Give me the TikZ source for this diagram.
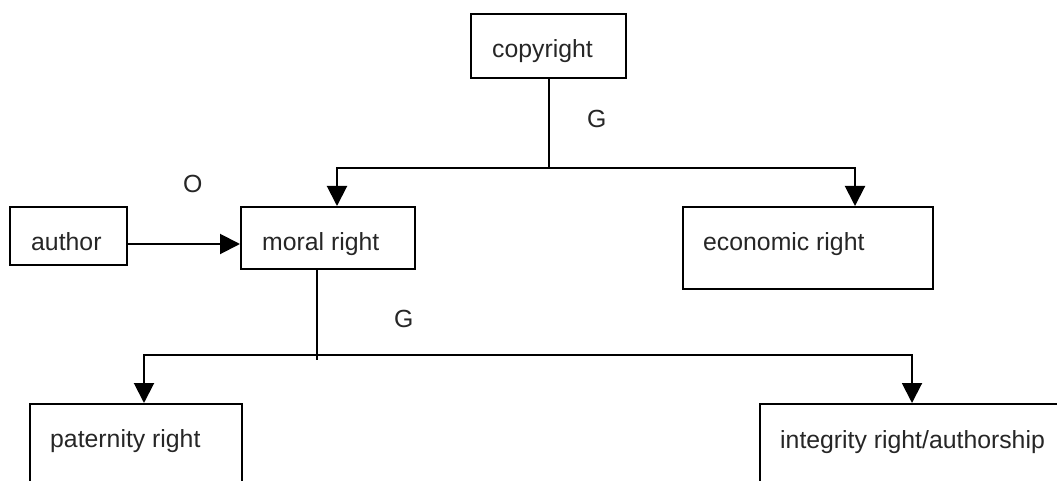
\documentclass[tikz,border=0pt]{standalone}
\usepackage{fontspec}
\setmainfont{Liberation Sans}
\usetikzlibrary{arrows.meta}
\begin{document}
\begin{tikzpicture}[x=1pt,y=-1pt,
  box/.style={draw,line width=2pt,inner sep=0pt,anchor=north west},
  txt/.style={anchor=base west,inner sep=0pt,font=\fontsize{24.8}{29}\selectfont,text=black!85},
  conn/.style={line width=2pt},
  arr/.style={line width=2pt,-{Triangle[width=20pt,length=20pt]}},
  arrs/.style={line width=2pt,{Triangle[width=20pt,length=20pt]}-{Triangle[width=20pt,length=20pt]}}]
\useasboundingbox (0,0) rectangle (1057,481);
\clip (0,0) rectangle (1057,481);
\fill[white] (0,0) rectangle (1057,481);
% boxes
\node[box,minimum width=155pt,minimum height=64pt] (cr) at (470,13) {};
\node[box,minimum width=117pt,minimum height=58pt] (au) at (9,206) {};
\node[box,minimum width=174pt,minimum height=62pt] (mr) at (240,206) {};
\node[box,minimum width=250pt,minimum height=82pt] (ec) at (682,206) {};
\node[box,minimum width=212pt,minimum height=100pt] (pa) at (29,403) {};
\node[box,minimum width=320pt,minimum height=100pt] (in) at (759,403) {};
% texts
\node[txt] (tcr) at (492,58) {copyright};
\node[txt] (tau) at (31,251) {author};
\node[txt] (tmr) at (262,251) {moral right};
\node[txt] (tec) at (703,251) {economic right};
\node[txt] (tpa) at (50,447) {paternity right};
\node[txt] (tin) at (780,448) {integrity right/authorship};
\node[txt] (g1) at (587,128) {G};
\node[txt] (o1) at (183,193) {O};
\node[txt] (g2) at (394,327) {G};
% connectors
\coordinate (a1) at (337,168);
\coordinate (a2) at (855,168);
\coordinate (ya) at (0,244);
\coordinate (bL) at (144,355);
\coordinate (bR) at (912,355);
\coordinate (b0) at (317,360);
\draw[conn] (cr.south) -- (cr.south |- a1);
\draw[arrs] (mr.north -| a1) -- (a1) -- (a2) -- (ec.north -| a2);
\draw[arr] (au.east |- ya) -- (mr.west |- ya);
\draw[conn] (mr.south -| b0) -- (b0);
\draw[arrs] (pa.north -| bL) -- (bL) -- (bR) -- (in.north -| bR);
\end{tikzpicture}
\end{document}
